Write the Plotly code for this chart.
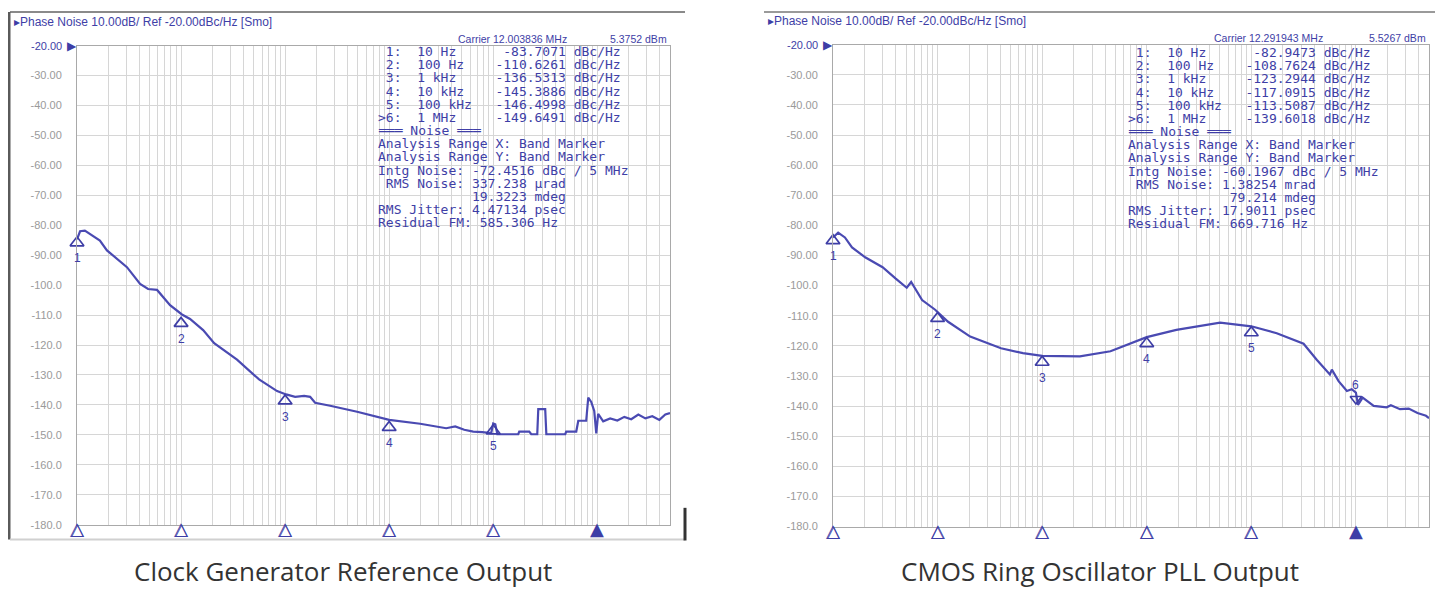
import math
import plotly.graph_objects as go

# The page adds an 8px body margin, so the figure is drawn 8px smaller and
# every reference pixel position is shifted by that margin.
W, H = 1443, 594
OFF = 8
FW, FH = W - OFF, H - OFF

# ---------------- data ----------------
# Left: Clock Generator Reference Output (offset frequency in Hz, phase noise in dBc/Hz)
left_freq = [10, 10.7, 11.9, 16.6, 19.4, 23.2, 30.2, 40.4, 48.2, 58.8, 67.2, 78.4, 102, 122,
             163, 208, 345, 562, 837, 1023, 1248, 1523, 1740, 1942, 2709, 4920, 10000,
             19860, 35320, 43130, 52640, 64260, 78390, 95700, 100000, 104700, 109600,
             174000, 178000, 222000, 232000, 265000, 271000, 316000, 324000, 492000,
             503000, 628000, 657000, 783000, 819000, 875000, 935000, 978000, 1020000,
             1140000, 1330000, 1560000, 1820000, 2120000, 2480000, 2900000, 3380000,
             3950000, 4510000, 5000000]
left_dbc = [-84.7, -82.0, -81.8, -85.1, -88.4, -90.7, -94.0, -99.6, -101.3, -101.6, -104.0,
            -106.7, -109.8, -111.3, -115.0, -119.4, -124.9, -131.5, -135.4, -136.5, -137.3,
            -137.0, -137.3, -139.3, -140.3, -142.3, -145.0, -146.3, -147.8, -147.2, -148.3,
            -148.9, -149.1, -149.4, -146.2, -146.5, -149.8, -149.8, -148.9, -148.9, -149.8,
            -149.8, -141.4, -141.4, -149.8, -149.8, -148.9, -148.9, -145.3, -145.3, -137.6,
            -139.0, -142.0, -149.5, -143.0, -145.5, -144.5, -145.2, -144.0, -144.8, -143.2,
            -144.5, -143.8, -145.0, -143.2, -142.7]

# Right: CMOS Ring Oscillator PLL Output
right_freq = [10, 11.2, 13, 15.2, 20.3, 29.8, 39.8, 50.7, 55.9, 61, 71.1, 94.8, 100, 126, 205,
              404, 655, 1000, 2296, 4500, 10000, 19200, 50300, 100000, 175000, 316000,
              422000, 511000, 564000, 589000, 683000, 820000, 912000, 1000000, 1047000,
              1160000, 1480000, 1970000, 2160000, 2640000, 3200000, 3880000, 4680000, 5000000]
right_dbc = [-84.0, -82.4, -84.0, -87.3, -90.6, -93.9, -97.7, -100.7, -98.8, -101.0, -104.8,
             -108.0, -108.8, -112.0, -116.9, -120.8, -122.4, -123.3, -123.5, -121.8, -117.1,
             -114.7, -112.3, -113.5, -115.8, -119.3, -124.6, -127.9, -129.5, -127.9, -131.7,
             -135.0, -134.4, -135.5, -139.6, -137.2, -139.9, -140.4, -139.7, -141.0, -140.8,
             -142.3, -143.2, -144.0]

marker_freq = [10, 100, 1000, 10000, 100000, 1000000]
marker_freq_text = ["10 Hz", "100 Hz", "1 kHz", "10 kHz", "100 kHz", "1 MHz"]
left_marker_dbc = [-83.7071, -110.6261, -136.5313, -145.3886, -146.4998, -149.6491]
right_marker_dbc = [-82.9473, -108.7624, -123.2944, -117.0915, -113.5087, -139.6018]

ytick_vals = [-20, -30, -40, -50, -60, -70, -80, -90, -100, -110, -120, -130, -140, -150,
              -160, -170, -180]
ytick_text = ["-20.00", "-30.00", "-40.00", "-50.00", "-60.00", "-70.00", "-80.00", "-90.00",
              "-100.0", "-110.0", "-120.0", "-130.0", "-140.0", "-150.0", "-160.0", "-170.0",
              "-180.0"]

header_text = "\u25b8Phase Noise 10.00dB/ Ref -20.00dBc/Hz [Smo]"
left_carrier = ["Carrier 12.003836 MHz", "5.3752 dBm"]
right_carrier = ["Carrier 12.291943 MHz", "5.5267 dBm"]
left_noise = ["Intg Noise: -72.4516 dBc / 5 MHz", " RMS Noise: 337.238 \u00b5rad",
              "            19.3223 mdeg", "RMS Jitter: 4.47134 psec", "Residual FM: 585.306 Hz"]
right_noise = ["Intg Noise: -60.1967 dBc / 5 MHz", " RMS Noise: 1.38254 mrad",
               "             79.214 mdeg", "RMS Jitter: 17.9011 psec", "Residual FM: 669.716 Hz"]
captions = ["Clock Generator Reference Output", "CMOS Ring Oscillator PLL Output"]

# ---------------- styling ----------------
BLUE = "#3e3ea6"
TRACE = "#4a4ab2"
GRID = "#d6d6d6"
FRAME = "#a9a9a9"
MONO = "DejaVu Sans Mono"
SANS = "Liberation Sans"


def px(x):
    return (x - OFF) / FW


def py(y):
    return 1 - (y - OFF) / FH


panels = [
    dict(x0=77, x1=670, yt=46, yb=530, xa="x", ya="y", freq=left_freq, dbc=left_dbc,
         mk=left_marker_dbc, carrier=left_carrier, noise=left_noise, tx=376, ty0=52,
         carrier_x=(456, 669), carrier_y=39, header=(12, 22), cap=(343, 577), caption=captions[0],
         show6=False),
    dict(x0=833, x1=1429, yt=45, yb=532, xa="x2", ya="y2", freq=right_freq, dbc=right_dbc,
         mk=right_marker_dbc, carrier=right_carrier, noise=right_noise, tx=1126, ty0=53,
         carrier_x=(1212, 1428), carrier_y=38, header=(766, 21), cap=(1100, 577), caption=captions[1],
         show6=True),
]

fig = go.Figure()
annotations = []
shapes = []

for i, p in enumerate(panels):
    sfx = "" if i == 0 else str(i + 1)
    px_per_db = (p["yb"] - p["yt"]) / 160.0
    # curve
    fig.add_trace(go.Scatter(x=p["freq"], y=p["dbc"], mode="lines", xaxis=p["xa"], yaxis=p["ya"],
                             line=dict(color=TRACE, width=2.2), showlegend=False, hoverinfo="skip"))
    # markers on curve
    up_y = [v - 6.5 / px_per_db for v in p["mk"][:5]]
    fig.add_trace(go.Scatter(x=marker_freq[:5], y=up_y, mode="markers", xaxis=p["xa"], yaxis=p["ya"],
                             marker=dict(symbol="triangle-up-open", size=12, color=BLUE,
                                         line=dict(width=1.7, color=BLUE)),
                             cliponaxis=False, showlegend=False, hoverinfo="skip"))
    n_labels = 5
    if p["show6"]:
        n_labels = 6
        fig.add_trace(go.Scatter(x=[marker_freq[5]], y=[p["mk"][5] + 6.0 / px_per_db], mode="markers",
                                 xaxis=p["xa"], yaxis=p["ya"],
                                 marker=dict(symbol="triangle-down-open", size=10, color=BLUE,
                                             line=dict(width=1.6, color=BLUE)),
                                 cliponaxis=False, showlegend=False, hoverinfo="skip"))
    for k in range(n_labels):
        below = k < 5
        annotations.append(dict(x=math.log10(marker_freq[k]), y=p["mk"][k], xref=p["xa"], yref=p["ya"],
                                text=str(k + 1), showarrow=False,
                                yshift=-22 if below else 20,
                                font=dict(family=SANS, size=12, color=BLUE)))
    # bottom band-marker triangles (annotations so they are never clipped)
    for k in range(6):
        annotations.append(dict(x=math.log10(marker_freq[k]), y=-180, xref=p["xa"], yref=p["ya"],
                                text="\u25b2" if k == 5 else "\u25b3", showarrow=False,
                                yshift=-4, xanchor="center", yanchor="middle",
                                font=dict(family="DejaVu Sans", size=18, color=BLUE)))
        if k < 5:
            annotations.append(dict(x=math.log10(marker_freq[k]), y=-180, xref=p["xa"], yref=p["ya"],
                                    text="\u25b3", showarrow=False,
                                    yshift=-4, xshift=0.7, xanchor="center", yanchor="middle",
                                    font=dict(family="DejaVu Sans", size=17, color=BLUE)))

    fig.update_layout(**{
        "xaxis" + sfx: dict(type="log", range=[1, math.log10(5e6)], domain=[px(p["x0"]), px(p["x1"])],
                            anchor=p["ya"], dtick="D1", showticklabels=False, ticks="",
                            showgrid=True, gridcolor=GRID, gridwidth=1, zeroline=False,
                            showline=True, mirror=True, linecolor=FRAME, linewidth=1),
        "yaxis" + sfx: dict(range=[-180, -20], domain=[py(p["yb"]), py(p["yt"])], anchor=p["xa"],
                            tickvals=ytick_vals, ticktext=[""] + ytick_text[1:], ticks="",
                            ticklabelstandoff=12,
                            tickfont=dict(family=SANS, size=11, color="#9a9a9a"),
                            showgrid=True, gridcolor=GRID, gridwidth=1, zeroline=False,
                            showline=True, mirror=True, linecolor=FRAME, linewidth=1),
    })

    # -20 reference label with arrow
    annotations.append(dict(x=px(p["x0"] - 13), y=py(p["yt"]), xref="paper", yref="paper",
                            text=ytick_text[0], showarrow=False, xanchor="right", yanchor="middle",
                            font=dict(family=SANS, size=11, color=BLUE)))
    annotations.append(dict(x=px(p["x0"] - 5), y=py(p["yt"]), xref="paper", yref="paper",
                            text="\u25b6", showarrow=False, xanchor="center", yanchor="middle",
                            font=dict(family="DejaVu Sans", size=12, color=BLUE)))
    # header
    annotations.append(dict(x=px(p["header"][0]), y=py(p["header"][1]), xref="paper", yref="paper",
                            text=header_text, showarrow=False, xanchor="left", yanchor="middle",
                            font=dict(family=SANS, size=12, color=BLUE)))
    # carrier
    annotations.append(dict(x=px(p["carrier_x"][0]), y=py(p["carrier_y"]), xref="paper", yref="paper",
                            text=p["carrier"][0], showarrow=False, xanchor="left", yanchor="middle",
                            font=dict(family=SANS, size=10.5, color=BLUE)))
    annotations.append(dict(x=px(p["carrier_x"][1]), y=py(p["carrier_y"]), xref="paper", yref="paper",
                            text=p["carrier"][1], showarrow=False, xanchor="right", yanchor="middle",
                            font=dict(family=SANS, size=10.5, color=BLUE)))
    # marker table + noise block
    lines = []
    for k in range(6):
        pre = ">" if k == 5 else " "
        lines.append(f"{pre}{k + 1}:  {marker_freq_text[k]:<10}{p['mk'][k]:>9.4f} dBc/Hz")
    lines.append("\u2550\u2550\u2550 Noise \u2550\u2550\u2550")
    lines.append("Analysis Range X: Band Marker")
    lines.append("Analysis Range Y: Band Marker")
    lines += p["noise"]
    for k, ln in enumerate(lines):
        annotations.append(dict(x=px(p["tx"]), y=py(p["ty0"] + k * 13.3), xref="paper", yref="paper",
                                text=ln.replace(" ", "\u00a0"), showarrow=False,
                                xanchor="left", yanchor="middle",
                                font=dict(family=MONO, size=13, color=BLUE)))
    # caption
    annotations.append(dict(x=px(p["cap"][0]), y=py(p["cap"][1]), xref="paper", yref="paper",
                            text=p["caption"], showarrow=False, xanchor="center", yanchor="middle",
                            font=dict(family="Open Sans", size=26, color="#333333")))


# screenshot frames
def seg(x0, y0, x1, y1, color, width):
    shapes.append(dict(type="line", xref="paper", yref="paper", x0=px(x0), y0=py(y0),
                       x1=px(x1), y1=py(y1), line=dict(color=color, width=width)))


seg(10, 12, 685, 12, "#8a8a8a", 2)
seg(9, 12, 9, 545, "#5a5a5a", 3)
seg(10, 545, 685, 545, "#d0d0d0", 2)
seg(685, 513, 685, 546, "#333333", 3)
seg(764, 12, 1438, 12, "#9a9a9a", 2)
seg(1438, 12, 1438, 550, "#c8c8c8", 2)

fig.update_layout(width=FW, height=FH, margin=dict(l=0, r=0, t=0, b=0),
                  paper_bgcolor="white", plot_bgcolor="white",
                  annotations=annotations, shapes=shapes, showlegend=False)

fig.write_html("out.html")
